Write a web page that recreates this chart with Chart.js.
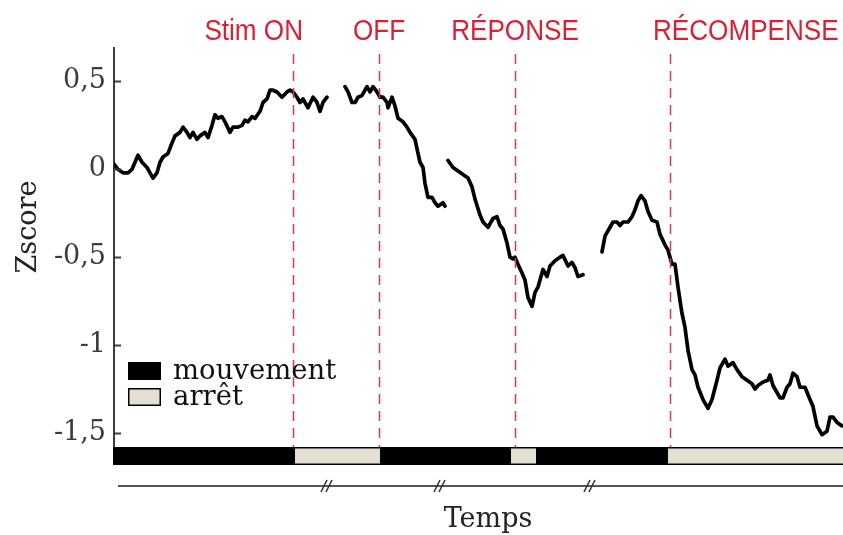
<!DOCTYPE html>
<html lang="fr">
<head>
<meta charset="utf-8">
<title>Zscore – Temps</title>
<script src="https://cdn.jsdelivr.net/npm/chart.js@4.4.1/dist/chart.umd.min.js"></script>
<style>
  html, body { margin: 0; padding: 0; background: #fff; }
  #wrap { width: 843px; height: 535px; }
</style>
</head>
<body>
<div id="wrap"><canvas id="chart" width="843" height="535"></canvas></div>
<script>
/* ── Données : trace moyenne (zscore) ; null = coupure de l'axe du temps ── */
const temps = [
  0, 4, 9, 14, 18, 21, 24, 28, 33, 36, 39, 43, 46, 49, 54, 58, 61, 66, 69, 73,
  76, 79, 83, 86, 91, 94, 98, 101, 104, 108, 111, 116, 119, 124, 128, 131, 134, 138, 141, 146,
  149, 153, 156, 159, 163, 168, 173, 176, 179, 183, 186, 189, 194, 199, 203, 206, 209, 213,
  222,
  231, 234, 238, 241, 244, 248, 253, 256, 259, 263, 266, 269, 273, 274, 278, 281, 284, 289, 293, 296,
  301, 304, 306, 309, 311, 314, 318, 321, 324, 329, 331,
  332,
  334, 339, 344, 349, 354, 358, 361, 366, 369, 374, 379, 383, 386, 389, 393, 396, 399, 401, 404, 408,
  411, 414, 418, 421, 424, 429, 433, 436, 441, 446, 449, 454, 458, 461, 464, 469,
  478,
  488, 491, 496, 499, 503, 506, 509, 514, 518, 521, 524, 527, 531, 534, 538, 543, 546, 551, 554, 558,
  561, 564, 568, 571, 574, 578, 581, 584, 589, 594, 598, 603, 606, 611, 614, 619, 623, 628, 633, 638,
  641, 644, 649, 654, 656, 659, 663, 666, 669, 673, 676, 679, 683, 686, 691, 696, 699, 703, 708, 713,
  716, 719, 723, 728
];
const zscore = [
  0.03, 0.00, -0.02, -0.02, 0.00, 0.04, 0.08, 0.04, 0.01, -0.02, -0.05, -0.02, 0.04, 0.07, 0.09, 0.15, 0.19, 0.21, 0.24, 0.21,
  0.18, 0.21, 0.17, 0.19, 0.21, 0.18, 0.25, 0.31, 0.29, 0.30, 0.27, 0.21, 0.24, 0.24, 0.25, 0.28, 0.27, 0.30, 0.29, 0.33,
  0.38, 0.40, 0.45, 0.45, 0.44, 0.41, 0.44, 0.45, 0.44, 0.41, 0.38, 0.40, 0.35, 0.41, 0.38, 0.33, 0.38, 0.41,
  null,
  0.47, 0.44, 0.38, 0.38, 0.41, 0.42, 0.47, 0.44, 0.47, 0.44, 0.41, 0.41, 0.38, 0.35, 0.41, 0.36, 0.29, 0.27, 0.24, 0.21,
  0.17, 0.09, 0.04, 0.01, -0.08, -0.16, -0.16, -0.19, -0.21, -0.19, -0.21,
  null,
  0.05, 0.01, -0.01, -0.03, -0.05, -0.10, -0.17, -0.26, -0.30, -0.33, -0.28, -0.27, -0.32, -0.34, -0.42, -0.50, -0.51, -0.50, -0.54, -0.59,
  -0.63, -0.73, -0.78, -0.70, -0.67, -0.57, -0.61, -0.55, -0.52, -0.50, -0.49, -0.55, -0.53, -0.56, -0.61, -0.60,
  null,
  -0.47, -0.38, -0.33, -0.30, -0.30, -0.32, -0.30, -0.30, -0.27, -0.23, -0.18, -0.15, -0.18, -0.24, -0.29, -0.30, -0.37, -0.43, -0.46, -0.54,
  -0.54, -0.67, -0.82, -0.90, -1.03, -1.14, -1.17, -1.24, -1.31, -1.36, -1.31, -1.20, -1.13, -1.08, -1.12, -1.10, -1.14, -1.18, -1.20, -1.22,
  -1.25, -1.23, -1.21, -1.20, -1.17, -1.23, -1.27, -1.30, -1.30, -1.24, -1.22, -1.16, -1.18, -1.24, -1.24, -1.31, -1.35, -1.46, -1.51, -1.49,
  -1.41, -1.41, -1.44, -1.46
];

/* ── Événements de l'essai ── */
const evenements = ["Stim ON", "OFF", "RÉPONSE", "RÉCOMPENSE"];
const tEvenements = [179, 265, 401, 556];

/* ── Comportement : mouvement / arrêt ── */
const etats = ["mouvement", "arrêt", "mouvement", "arrêt", "mouvement", "arrêt"];
const etatDebut = [0, 181, 266, 397, 422, 554];
const etatFin = [181, 266, 397, 422, 554, 729];

/* ── Coupures de l'axe du temps ── */
const coupures = [213, 326, 476];

/* ── Axe Y ── */
const yTicks = [0.5, 0, -0.5, -1, -1.5];
const yMin = -1.58, yMax = 0.69;
const tMax = 729;

const COULEUR_ETAT = { "mouvement": "#000000", "arrêt": "#e3dfd3" };
const ROUGE = "#dc1e36";
const GRIS = "#3c3c3c";
const SERIF = '"DejaVu Serif", serif';

/* ── Décor : repères, barre de comportement, légende, titres ── */
const decor = {
  id: "decor",
  afterDatasetsDraw(chart) {
    const { ctx, chartArea: a, scales: { x } } = chart;
    ctx.save();
    ctx.strokeStyle = "#e0384e";
    ctx.lineWidth = 1.5;
    ctx.setLineDash([10, 7]);
    tEvenements.forEach(t => {
      const px = Math.round(x.getPixelForValue(t)) + 0.5;
      ctx.beginPath();
      ctx.moveTo(px, 54);
      ctx.lineTo(px, a.bottom);
      ctx.stroke();
    });
    ctx.restore();
  },
  afterDraw(chart) {
    const { ctx, chartArea: a, scales: { x, y } } = chart;
    ctx.save();

    // labels des événements
    const align = ["right", "center", "center", "left"];
    const decal = [10, 0, 0, -17];
    ctx.fillStyle = ROUGE;
    ctx.font = '29px "Liberation Sans", Arial, sans-serif';
    ctx.textBaseline = "alphabetic";
    evenements.forEach((lab, i) => {
      const px = x.getPixelForValue(tEvenements[i]) + decal[i];
      ctx.save();
      ctx.translate(px, 40);
      ctx.scale(0.9, 1);
      ctx.textAlign = align[i];
      ctx.fillText(lab, 0, 0);
      ctx.restore();
    });

    // petites graduations vers l'intérieur
    ctx.strokeStyle = GRIS;
    ctx.lineWidth = 2;
    yTicks.forEach(v => {
      const py = Math.round(y.getPixelForValue(v)) + 0.5;
      ctx.beginPath();
      ctx.moveTo(a.left, py);
      ctx.lineTo(a.left + 7, py);
      ctx.stroke();
    });

    // barre mouvement / arrêt
    const bTop = a.bottom, bH = 18;
    const x0 = a.left - 1;
    ctx.fillStyle = "#000";
    ctx.fillRect(x0, bTop, a.right - x0, bH);
    etats.forEach((e, i) => {
      if (e !== "arrêt") return;
      const xa = x.getPixelForValue(etatDebut[i]);
      const xb = x.getPixelForValue(etatFin[i]);
      ctx.fillStyle = COULEUR_ETAT[e];
      ctx.fillRect(xa, bTop + 1.5, xb - xa, bH - 3);
    });

    // axe du temps avec coupures
    const yAxe = 486;
    ctx.strokeStyle = "#555";
    ctx.lineWidth = 2;
    ctx.beginPath();
    ctx.moveTo(a.left + 4, yAxe);
    ctx.lineTo(a.right, yAxe);
    ctx.stroke();
    ctx.strokeStyle = "#333";
    ctx.lineWidth = 1.6;
    coupures.forEach(t => {
      const cx = x.getPixelForValue(t);
      [-3, 2].forEach(o => {
        ctx.beginPath();
        ctx.moveTo(cx + o - 3, yAxe + 6);
        ctx.lineTo(cx + o + 3, yAxe - 6);
        ctx.stroke();
      });
    });

    // légende
    const lx = a.left + 14;
    [["mouvement", 362], ["arrêt", 388]].forEach(([e, ly]) => {
      ctx.fillStyle = COULEUR_ETAT[e];
      ctx.fillRect(lx, ly, 33, 18);
      ctx.strokeStyle = "#000";
      ctx.lineWidth = 1.5;
      ctx.strokeRect(lx + 0.75, ly + 0.75, 31.5, 16.5);
      ctx.fillStyle = "#111";
      ctx.font = "27.5px " + SERIF;
      ctx.textAlign = "left";
      ctx.fillText(e, lx + 45, ly + 17);
    });

    // titres des axes
    ctx.fillStyle = "#222";
    ctx.font = "27px " + SERIF;
    ctx.textAlign = "center";
    ctx.fillText("Temps", 488, 527);
    ctx.save();
    ctx.translate(36, 227);
    ctx.rotate(-Math.PI / 2);
    ctx.fillText("Zscore", 0, 0);
    ctx.restore();

    ctx.restore();
  }
};

const points = temps.map((t, i) => ({ x: t, y: zscore[i] }));

new Chart(document.getElementById("chart"), {
  type: "line",
  data: {
    datasets: [{
      data: points,
      borderColor: "#000",
      borderWidth: 3.7,
      pointRadius: 0,
      tension: 0,
      spanGaps: false,
      borderJoinStyle: "round",
      borderCapStyle: "round"
    }]
  },
  options: {
    responsive: false,
    animation: false,
    layout: { padding: { top: 48, bottom: 88, left: 0, right: 0 } },
    plugins: { legend: { display: false }, tooltip: { enabled: false } },
    scales: {
      x: { type: "linear", min: 0, max: tMax, display: false },
      y: {
        min: yMin,
        max: yMax,
        afterBuildTicks: s => { s.ticks = yTicks.map(v => ({ value: v })); },
        afterFit: s => { s.width = 114; },
        grid: { display: false, drawTicks: false },
        border: { display: true, color: GRIS, width: 2 },
        ticks: {
          padding: 8,
          color: GRIS,
          font: { family: "DejaVu Serif", size: 27 },
          callback: v => String(v).replace(".", ",")
        }
      }
    }
  },
  plugins: [decor]
});
</script>
</body>
</html>
